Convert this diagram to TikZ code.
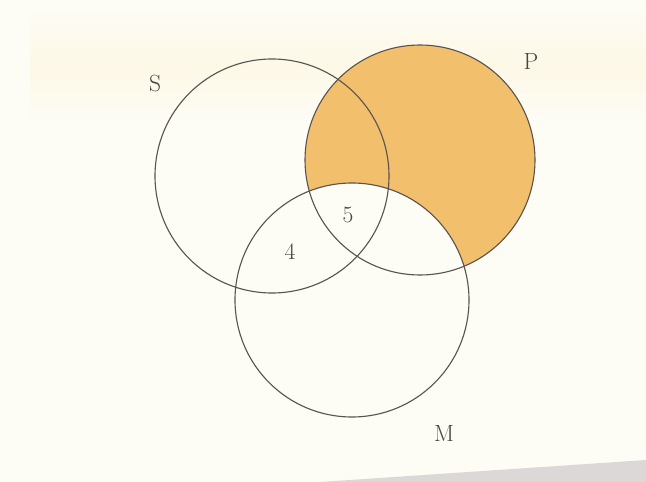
\documentclass[tikz,border=0pt]{standalone}
\usepackage{tikz}
\definecolor{bgcream}{HTML}{FDFCF5}
\definecolor{bgtop}{HTML}{FDF8E6}
\definecolor{porange}{HTML}{F2BF6C}
\definecolor{edge}{HTML}{5A5350}
\definecolor{shadowgrey}{HTML}{DCD8D8}
\tikzset{
  setcircle/.style={draw=edge, line width=0.95pt},
  lbl/.style={text=edge!80!black, font=\fontsize{20}{23}\selectfont, inner sep=0pt}
}
\begin{document}
\begin{tikzpicture}[x=0.03cm,y=-0.03cm]
\useasboundingbox (0,0) rectangle (646,482);
\fill[bgcream] (0,0) rectangle (646,482);
\fill[top color=bgcream, bottom color=bgcream, middle color=bgtop] (30,10) rectangle (646,120);
\fill[shadowgrey] (320,482) -- (646,460) -- (646,482) -- cycle;
\coordinate (cS) at (272,176);
\coordinate (cP) at (420,160);
\coordinate (cM) at (352,300);
\begin{scope}
  \clip (cP) circle (115);
  \fill[porange, even odd rule] (cP) circle (115) (cM) circle (117);
\end{scope}
\draw[setcircle] (cS) circle (117);
\draw[setcircle] (cP) circle (115);
\draw[setcircle] (cM) circle (117);
\node[lbl] (S) at (155,83) {S};
\node[lbl] (P) at (531,61) {P};
\node[lbl] (M) at (444,433) {M};
\node[lbl] (n5) at (348,215) {5};
\node[lbl] (n4) at (290,252) {4};
\end{tikzpicture}
\end{document}
